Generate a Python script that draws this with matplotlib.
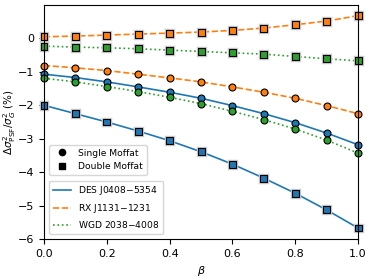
import matplotlib
matplotlib.use("Agg")
import matplotlib.pyplot as plt
from matplotlib.lines import Line2D
import matplotlib.patheffects as pe

beta = [0.0, 0.1, 0.2, 0.3, 0.4, 0.5, 0.6, 0.7, 0.8, 0.9, 1.0]

names = ["DES J0408$-$5354", "RX J1131$-$1231", "WGD 2038$-$4008"]
colors = ["C0", "C1", "C2"]
styles = ["-", "--", ":"]

# single Moffat (circles)
des_single = [-1.07, -1.17, -1.30, -1.45, -1.61, -1.79, -2.01, -2.25, -2.52, -2.83, -3.18]
rx_single = [-0.81, -0.88, -0.96, -1.07, -1.18, -1.30, -1.45, -1.61, -1.79, -2.01, -2.25]
wgd_single = [-1.19, -1.30, -1.44, -1.59, -1.76, -1.95, -2.18, -2.43, -2.71, -3.04, -3.43]

# double Moffat (squares)
des_double = [-2.00, -2.25, -2.50, -2.77, -3.06, -3.39, -3.76, -4.18, -4.63, -5.13, -5.67]
rx_double = [0.05, 0.07, 0.10, 0.13, 0.16, 0.19, 0.24, 0.31, 0.41, 0.52, 0.68]
wgd_double = [-0.23, -0.26, -0.28, -0.31, -0.35, -0.39, -0.43, -0.47, -0.54, -0.61, -0.67]

singles = [des_single, rx_single, wgd_single]
doubles = [des_double, rx_double, wgd_double]

plt.rcParams['font.size'] = 8

fig = plt.figure(figsize=(3.73, 2.77), dpi=100)
ax = fig.add_axes([0.118, 0.137, 0.842, 0.845])

halo = [pe.withStroke(linewidth=2.5, foreground='0.8')]

for s, d, c, ls in zip(singles, doubles, colors, styles):
    ax.plot(beta, s, color=c, ls=ls, lw=1.2)
    ax.plot(beta, d, color=c, ls=ls, lw=1.2)
    ax.plot(beta, s, 'o', color=c, mec='k', mew=0.8, ms=5, ls='none', clip_on=False)
    ax.plot(beta, d, 's', color=c, mec='k', mew=0.8, ms=5, ls='none', clip_on=False,
            path_effects=halo)

ax.set_xlim(0, 1)
ax.set_ylim(-6, 1)
ax.set_yticks([-6, -5, -4, -3, -2, -1, 0])
ax.set_xlabel(r"$\beta$")
ax.set_ylabel(r"$\Delta\sigma^2_{\rm PSF}/\sigma^2_G$ (%)", fontsize=7.5)
ax.yaxis.set_label_coords(-0.082, 0.5)

h1 = [Line2D([], [], marker='o', color='k', ls='none', ms=4.5),
      Line2D([], [], marker='s', color='k', ls='none', ms=4.5)]
leg1 = ax.legend(h1, ["Single Moffat", "Double Moffat"], loc='upper left',
                 bbox_to_anchor=(0.016, 0.402), borderaxespad=0, fontsize=6.6)
ax.add_artist(leg1)

h2 = [Line2D([], [], color=c, ls=ls, lw=1.2) for c, ls in zip(colors, styles)]
ax.legend(h2, names, loc='lower left', bbox_to_anchor=(0.016, 0.021),
          borderaxespad=0, fontsize=6.6)

fig.savefig("out.png", dpi=100)
